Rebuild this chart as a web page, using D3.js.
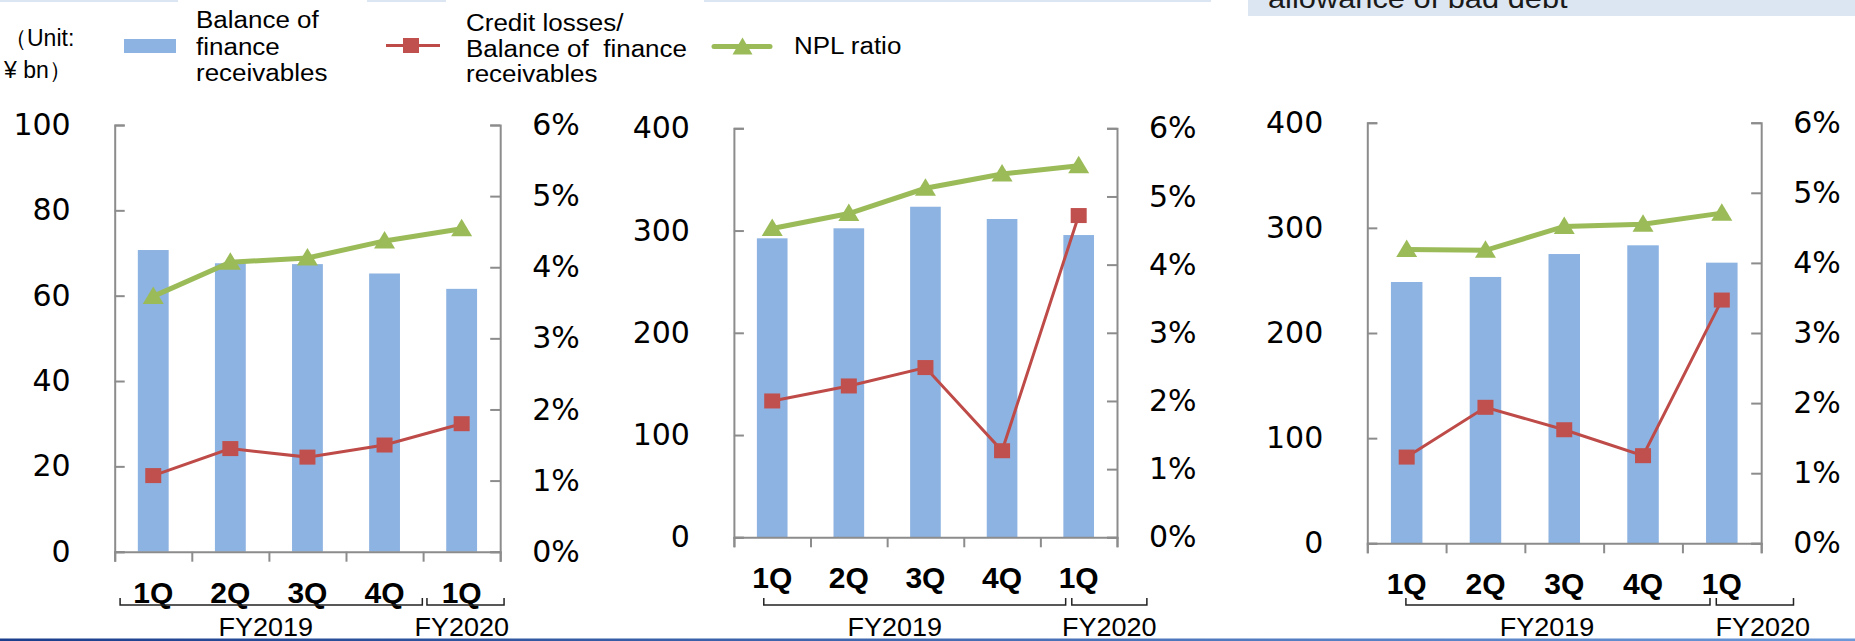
<!DOCTYPE html>
<html>
<head>
<meta charset="utf-8">
<script src="https://cdn.jsdelivr.net/npm/d3@7"></script>
<style>
  body { margin: 0; background: #fff; }
  text { fill: #000; white-space: pre; }
</style>
</head>
<body>
<div id="chart"></div>
<script>
// quarters shown under every panel
const quarters = ["1Q", "2Q", "3Q", "4Q", "1Q"];
const fiscalYears = ["FY2019", "FY2020"];

// left panel
const balance1 = [70.7, 67.6, 67.4, 65.2, 61.6];
const creditLoss1 = [1.07, 1.45, 1.33, 1.50, 1.80];
const npl1 = [3.59, 4.07, 4.13, 4.37, 4.54];

// middle panel
const balance2 = [292.4, 302.2, 323.3, 311.3, 295.6];
const creditLoss2 = [2.00, 2.22, 2.49, 1.27, 4.72];
const npl2 = [4.53, 4.75, 5.12, 5.33, 5.45];

// right panel
const balance3 = [248.5, 253.3, 275.1, 283.4, 266.9];
const creditLoss3 = [1.23, 1.94, 1.62, 1.25, 3.47];
const npl3 = [4.19, 4.18, 4.52, 4.55, 4.71];

const leftTicks1 = [0, 20, 40, 60, 80, 100];
const leftTicks23 = [0, 100, 200, 300, 400];
const rightTicks = [0, 1, 2, 3, 4, 5, 6];

const unitLines = ["（Unit:", "¥ bn）"];
const legendBalance = ["Balance of", "finance", "receivables"];
const legendCredit = ["Credit losses/", "Balance of  finance", "receivables"];
const legendNpl = ["NPL ratio"];
const boxText = "allowance of bad debt";

const W = 1855, H = 641;
const barColor = "#8db3e2";
const redColor = "#be4b48";
const greenColor = "#9bbb59";
const axisColor = "#8c8c8c";
const sx = 1.13; // text in the picture is a bit wider than the fonts

const svg = d3.select("#chart").append("svg")
    .attr("width", W)
    .attr("height", H);

const defs = svg.append("defs");
const grad = defs.append("linearGradient").attr("id", "bottomLine");
grad.append("stop").attr("offset", "0%").attr("stop-color", "#1b3e8c");
grad.append("stop").attr("offset", "100%").attr("stop-color", "#6a98d8");

function stretchedText(g, x, y, txt, size, anchor, weight, scale) {
    return g.append("text")
        .attr("transform", `translate(${x},${y}) scale(${scale || sx},1)`)
        .attr("text-anchor", anchor || "start")
        .attr("xml:space", "preserve")
        .style("font-family", "'Liberation Sans', Arial, sans-serif")
        .style("font-size", size + "px")
        .style("font-weight", weight || "normal")
        .text(txt);
}

// faint header strips and the box in the top right
[[0, 178], [367, 446], [704, 1211]].forEach(([a, b]) => {
    svg.append("rect").attr("x", a).attr("y", 0).attr("width", b - a).attr("height", 2).attr("fill", "#dce6f2");
});
svg.append("rect").attr("x", 1248).attr("y", 0).attr("width", W - 1248).attr("height", 16).attr("fill", "#dce6f2");
stretchedText(svg, 1268, 8, boxText, 28, "start", "normal", 1.1).style("fill", "#1a1a1a");

// bottom rule
svg.append("rect").attr("x", 0).attr("y", 638.5).attr("width", W).attr("height", 2.5).attr("fill", "url(#bottomLine)");

const panels = [
    { x0: 114.7, x1: 500.2, yTop: 125, yBot: 551.7, max: 100, ticks: leftTicks1,
      bars: balance1, red: creditLoss1, green: npl1,
      brackets: [[0.07, 3.99], [4.05, 5.05]], fyAt: [1.96, 4.5] },
    { x0: 733.9, x1: 1117, yTop: 128.3, yBot: 537.3, max: 400, ticks: leftTicks23,
      bars: balance2, red: creditLoss2, green: npl2,
      brackets: [[0.39, 4.33], [4.41, 5.39]], fyAt: [2.1, 4.9] },
    { x0: 1367.3, x1: 1761.2, yTop: 122.7, yBot: 543.3, max: 400, ticks: leftTicks23,
      bars: balance3, red: creditLoss3, green: npl3,
      brackets: [[0.49, 4.35], [4.43, 5.41]], fyAt: [2.28, 5.02] }
];

function drawPanel(p) {
    const g = svg.append("g");
    const x = d3.scaleBand(d3.range(quarters.length), [p.x0, p.x1])
        .paddingInner(0.6).paddingOuter(0.3);
    const xc = i => x(i) + x.bandwidth() / 2;
    const xu = d3.scaleLinear([0, quarters.length], [p.x0, p.x1]);
    const y = d3.scaleLinear([0, p.max], [p.yBot, p.yTop]);
    const yR = d3.scaleLinear([0, 6], [p.yBot, p.yTop]);

    g.selectAll(".bar").data(p.bars).join("rect")
        .attr("x", (d, i) => x(i))
        .attr("y", d => y(d))
        .attr("width", x.bandwidth())
        .attr("height", d => y(0) - y(d))
        .attr("fill", barColor);

    const left = g.append("g")
        .attr("transform", `translate(${p.x0},0)`)
        .call(d3.axisLeft(y).tickValues(p.ticks).tickSizeInner(-10).tickSizeOuter(-10).tickPadding(44));
    const right = g.append("g")
        .attr("transform", `translate(${p.x1},0)`)
        .call(d3.axisRight(yR).tickValues(rightTicks).tickFormat(d => d + "%")
            .tickSizeInner(-10).tickSizeOuter(-10).tickPadding(32));
    const bottom = g.append("g")
        .attr("transform", `translate(0,${p.yBot})`)
        .call(d3.axisBottom(xu).tickValues(d3.range(quarters.length + 1)).tickSize(10).tickFormat(""));

    [left, right, bottom].forEach(a => {
        a.selectAll("path, line").attr("stroke", axisColor).attr("stroke-width", 2);
        a.selectAll("text")
            .attr("fill", "#000")
            .style("font-family", "'DejaVu Sans', Verdana, sans-serif")
            .style("font-size", "30px");
    });

    const line = d3.line().x((d, i) => xc(i)).y(d => yR(d));
    g.append("path").datum(p.red).attr("d", line)
        .attr("fill", "none").attr("stroke", redColor).attr("stroke-width", 3);
    g.append("path").datum(p.green).attr("d", line)
        .attr("fill", "none").attr("stroke", greenColor).attr("stroke-width", 5);

    g.selectAll(".sq").data(p.red).join("rect")
        .attr("x", (d, i) => xc(i) - 8)
        .attr("y", d => yR(d) - 7.5)
        .attr("width", 16).attr("height", 15)
        .attr("fill", "#c0504d");
    g.selectAll(".tri").data(p.green).join("path")
        .attr("d", "M0,-10L10.5,7.5L-10.5,7.5Z")
        .attr("transform", (d, i) => `translate(${xc(i)},${yR(d)})`)
        .attr("fill", greenColor);

    quarters.forEach((q, i) => {
        stretchedText(g, xc(i), p.yBot + 51, q, 30, "middle", "bold", 1.0);
    });

    const by = 598, bb = 605;
    p.brackets.forEach(([a, b]) => {
        const xa = xu(a), xb = xu(b);
        g.append("path")
            .attr("d", `M${xa},${by}V${bb}H${xb}V${by}`)
            .attr("fill", "none").attr("stroke", "#222").attr("stroke-width", 1.5);
    });
    fiscalYears.forEach((fy, i) => {
        stretchedText(g, xu(p.fyAt[i]), 636, fy, 25, "middle", "normal", 1.08);
    });
}

panels.forEach(drawPanel);

// legend
const lg = svg.append("g");
unitLines.forEach((t, i) => stretchedText(lg, 4, 46 + i * 32, t, 23, "start", "normal", 1.0));
lg.append("rect").attr("x", 124).attr("y", 39).attr("width", 52).attr("height", 14).attr("fill", barColor);
legendBalance.forEach((t, i) => stretchedText(lg, 196, 28 + i * 26.5, t, 23, "start"));

lg.append("line").attr("x1", 386).attr("x2", 440).attr("y1", 45.5).attr("y2", 45.5)
    .attr("stroke", redColor).attr("stroke-width", 3);
lg.append("rect").attr("x", 403).attr("y", 38).attr("width", 16).attr("height", 15).attr("fill", "#c0504d");
legendCredit.forEach((t, i) => stretchedText(lg, 466, 31 + i * 25.5, t, 23, "start"));

lg.append("line").attr("x1", 714).attr("x2", 770).attr("y1", 46.5).attr("y2", 46.5)
    .attr("stroke", greenColor).attr("stroke-width", 5).attr("stroke-linecap", "round");
lg.append("path").attr("d", "M0,-9L10,8L-10,8Z").attr("transform", "translate(742.5,46.5)").attr("fill", greenColor);
legendNpl.forEach((t, i) => stretchedText(lg, 794, 54, t, 23, "start"));
</script>
</body>
</html>
